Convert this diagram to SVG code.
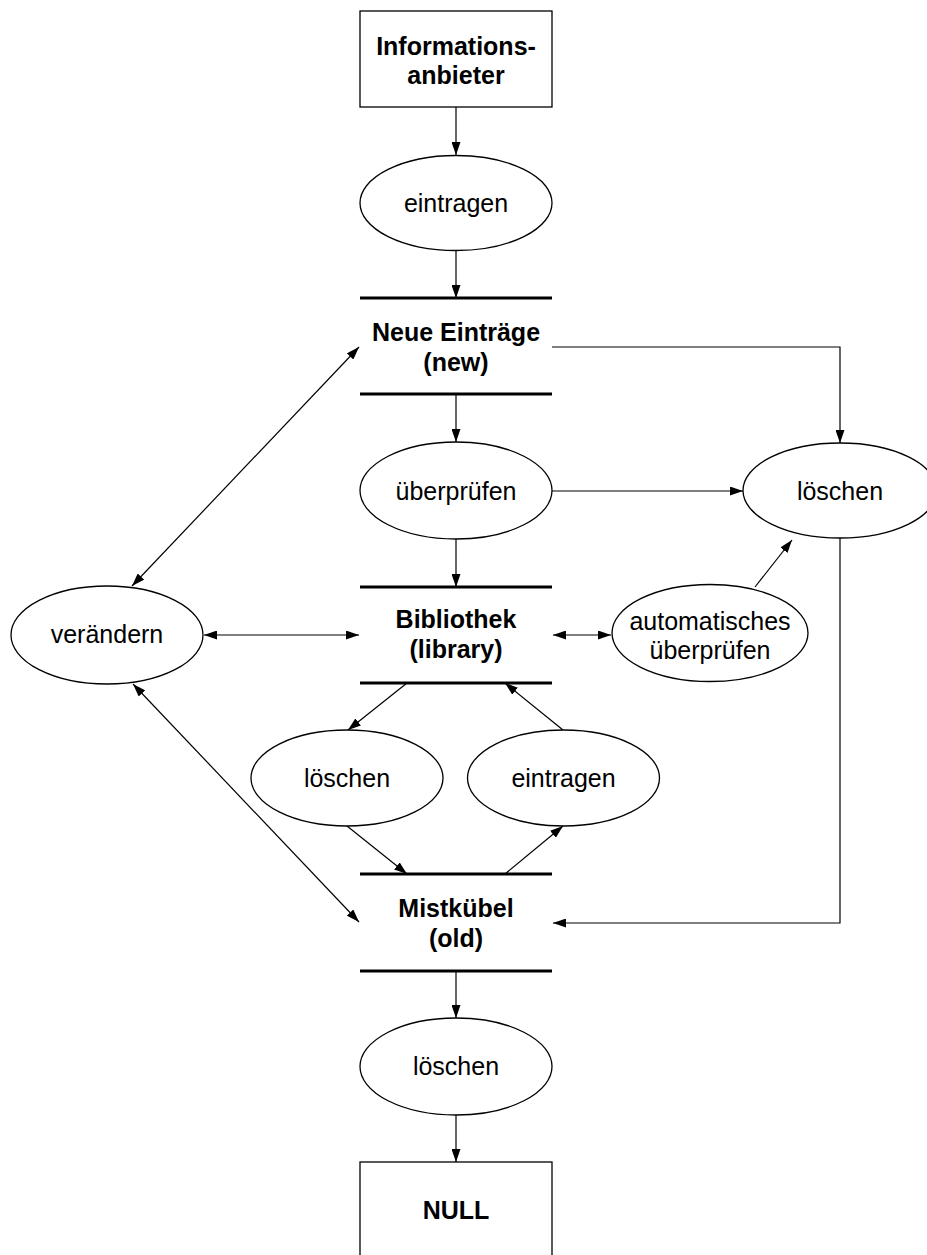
<svg xmlns="http://www.w3.org/2000/svg" width="927" height="1255" viewBox="0 0 927 1255">
<style>
.box{fill:#fff;stroke:#000;stroke-width:1.3}
.proc{fill:#fff;stroke:#000;stroke-width:1.3}
.store{stroke:#000;stroke-width:3}
.t{font-family:"Liberation Sans",Arial,sans-serif;font-size:25px;fill:#000;text-anchor:middle}
.b{font-weight:bold}
.c{fill:none;stroke:#000;stroke-width:1.2}
</style>
<defs>
<marker id="ah" viewBox="0 0 13 9" refX="13" refY="4.5" markerWidth="13" markerHeight="9" markerUnits="userSpaceOnUse" orient="auto-start-reverse">
<path d="M0,0 L13,4.5 L0,9 z" fill="#000"/>
</marker>
</defs>
<rect width="927" height="1255" fill="#fff"/>
<g id="connectors">
<line class="c" x1="456" y1="107" x2="456" y2="155" marker-end="url(#ah)"/>
<line class="c" x1="456" y1="250" x2="456" y2="298" marker-end="url(#ah)"/>
<polyline class="c" points="552,347 840,347 840,443" marker-end="url(#ah)"/>
<line class="c" x1="456" y1="394" x2="456" y2="442" marker-end="url(#ah)"/>
<line class="c" x1="552" y1="491" x2="743" y2="491" marker-end="url(#ah)"/>
<line class="c" x1="456" y1="539" x2="456" y2="587" marker-end="url(#ah)"/>
<line class="c" x1="132" y1="586" x2="359" y2="347" marker-start="url(#ah)" marker-end="url(#ah)"/>
<line class="c" x1="204" y1="635" x2="359" y2="635" marker-start="url(#ah)" marker-end="url(#ah)"/>
<line class="c" x1="553" y1="635" x2="611" y2="635" marker-start="url(#ah)" marker-end="url(#ah)"/>
<line class="c" x1="755" y1="587" x2="792" y2="540" marker-end="url(#ah)"/>
<polyline class="c" points="840,538 840,923 553,923" marker-end="url(#ah)"/>
<line class="c" x1="407" y1="683" x2="348" y2="730" marker-end="url(#ah)"/>
<line class="c" x1="563" y1="730" x2="505" y2="683" marker-end="url(#ah)"/>
<line class="c" x1="347" y1="826" x2="407" y2="874" marker-end="url(#ah)"/>
<line class="c" x1="505" y1="874" x2="563" y2="826" marker-end="url(#ah)"/>
<line class="c" x1="133" y1="684" x2="359" y2="922" marker-start="url(#ah)" marker-end="url(#ah)"/>
<line class="c" x1="456" y1="971" x2="456" y2="1018" marker-end="url(#ah)"/>
<line class="c" x1="456" y1="1115" x2="456" y2="1162" marker-end="url(#ah)"/>
</g>
<g id="informationsanbieter">
<rect class="box" x="360" y="11" width="192" height="96"/>
<text class="t b" x="456" y="55">Informations-</text>
<text class="t b" x="456" y="84">anbieter</text>
</g>
<g id="eintragen1">
<ellipse class="proc" cx="456" cy="203" rx="96" ry="47.5"/>
<text class="t" x="456" y="212">eintragen</text>
</g>
<g id="neue">
<line class="store" x1="360" y1="298" x2="552" y2="298"/>
<line class="store" x1="360" y1="394" x2="552" y2="394"/>
<text class="t b" x="456" y="341">Neue Einträge</text>
<text class="t b" x="456" y="371">(new)</text>
</g>
<g id="ueberpruefen">
<ellipse class="proc" cx="456" cy="490.5" rx="96" ry="48.5"/>
<text class="t" x="456" y="500">überprüfen</text>
</g>
<g id="loeschen1">
<ellipse class="proc" cx="840" cy="490.5" rx="97" ry="47.5"/>
<text class="t" x="840" y="500">löschen</text>
</g>
<g id="veraendern">
<ellipse class="proc" cx="107" cy="635" rx="96" ry="49"/>
<text class="t" x="107" y="643">verändern</text>
</g>
<g id="bibliothek">
<line class="store" x1="360" y1="587" x2="552" y2="587"/>
<line class="store" x1="360" y1="683" x2="552" y2="683"/>
<text class="t b" x="456" y="628">Bibliothek</text>
<text class="t b" x="456" y="658">(library)</text>
</g>
<g id="automatisch">
<ellipse class="proc" cx="710" cy="633" rx="98" ry="48.5"/>
<text class="t" x="710" y="630">automatisches</text>
<text class="t" x="710" y="659">überprüfen</text>
</g>
<g id="loeschen2">
<ellipse class="proc" cx="347" cy="778" rx="96" ry="48"/>
<text class="t" x="347" y="787">löschen</text>
</g>
<g id="eintragen2">
<ellipse class="proc" cx="563.5" cy="778" rx="96" ry="48"/>
<text class="t" x="563.5" y="787">eintragen</text>
</g>
<g id="mistkuebel">
<line class="store" x1="360" y1="874" x2="552" y2="874"/>
<line class="store" x1="360" y1="971" x2="552" y2="971"/>
<text class="t b" x="456" y="917">Mistkübel</text>
<text class="t b" x="456" y="947">(old)</text>
</g>
<g id="loeschen3">
<ellipse class="proc" cx="456" cy="1066.5" rx="96" ry="48.5"/>
<text class="t" x="456" y="1075">löschen</text>
</g>
<g id="null">
<rect class="box" x="360" y="1162" width="192" height="100"/>
<text class="t b" x="456" y="1219">NULL</text>
</g>
</svg>
